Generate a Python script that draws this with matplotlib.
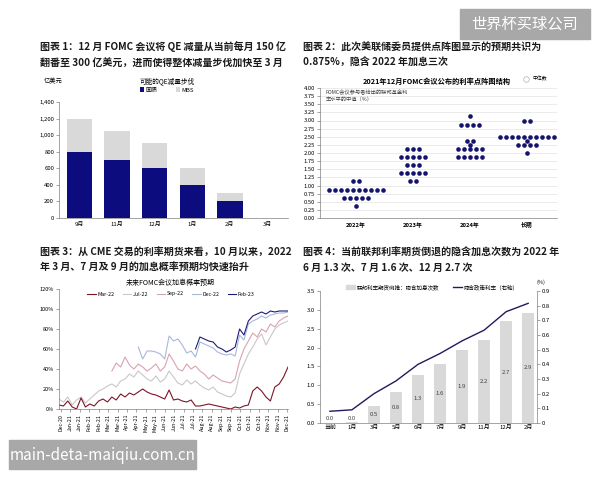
#!/usr/bin/env python3
"""FOMC 四图拼版 - QE减量 / 点阵图 / 加息概率 / 隐含加息次数"""
import pandas as pd
import matplotlib
matplotlib.use('Agg')
import matplotlib.pyplot as plt
import matplotlib.dates as mdates
from matplotlib.patches import Rectangle, Patch
from matplotlib.lines import Line2D

plt.rcParams['font.family'] = ['Noto Sans CJK SC', 'DejaVu Sans']

# 图1 QE 减量步伐（亿美元）
qe_months = ['9月', '11月', '12月', '1月', '2月', '3月']
qe_treasury = [800, 700, 600, 400, 200, 0]
qe_mbs = [400, 350, 300, 200, 100, 0]

# 图2 点阵图
dot_groups = ['2022年', '2023年', '2024年', '长期']
dots_2022_rate = [1.125, 0.875, 0.625, 0.375]
dots_2022_count = [2, 10, 5, 1]
dots_2023_rate = [2.125, 1.875, 1.625, 1.375, 1.125]
dots_2023_count = [3, 5, 3, 5, 2]
dots_2024_rate = [3.125, 2.875, 2.375, 2.25, 2.125, 1.875]
dots_2024_count = [1, 4, 2, 1, 5, 5]
dots_long_rate = [3.0, 2.5, 2.375, 2.25, 2.0]
dots_long_count = [2, 10, 1, 4, 1]

# 图3 CME 加息概率（%），周频
cme_start = '2020-12-17'
cme_weeks = 53
mar22 = [4, 3, 8, 2, 0, 11, 2, 5, 3, 8, 10, 7, 12, 9, 15, 12, 16, 14, 17, 20,
         17, 15, 14, 12, 10, 19, 9, 10, 8, 7, 9, 3, 3, 4, 5, 4, 3, 2, 1, 0,
         2, 1, 3, 4, 18, 22, 18, 12, 8, 22, 25, 32, 42]
jul22 = [10, 7, 12, 4, 9, 12, 6, 10, 14, 18, 20, 23, 25, 22, 28, 30, 35, 32, 38, 34,
         30, 28, 33, 27, 30, 38, 32, 26, 24, 29, 25, 28, 24, 21, 19, 22, 17, 15, 13, 12,
         16, 35, 45, 55, 62, 70, 75, 64, 72, 80, 84, 86, 88]
sep22_from = 12
sep22 = [38, 46, 42, 52, 44, 40, 45, 42, 38, 41, 45, 38, 42, 55, 48, 40, 38, 45, 40, 43,
         38, 35, 30, 34, 31, 28, 27, 26, 30, 48, 60, 68, 76, 72, 80, 77, 85, 82, 88, 91, 93]
dec22_from = 18
dec22 = [62, 50, 58, 58, 57, 55, 50, 73, 68, 70, 64, 56, 58, 52, 67, 65, 63, 61, 57, 55,
         54, 55, 53, 74, 69, 85, 88, 90, 93, 91, 94, 95, 96, 96, 97]
feb23_from = 31
feb23 = [60, 72, 70, 68, 67, 62, 60, 57, 59, 62, 80, 74, 88, 93, 95, 97, 95, 98, 97, 98,
         98, 98]

# 图4 隐含加息次数 / 隐含政策利率
hike_months = ['当前', '1月', '3月', '5月', '6月', '7月', '9月', '11月', '12月', '2月']
hike_counts = [0.0, 0.02, 0.46, 0.82, 1.28, 1.56, 1.93, 2.20, 2.70, 2.92]
implied_rate = [0.08, 0.09, 0.20, 0.287, 0.40, 0.474, 0.56, 0.633, 0.759, 0.816]

NAVY = '#14146e'
W, H = 600, 480


def rect(x0, y0, x1, y1):
    """像素坐标 -> figure 坐标"""
    return [x0 / W, 1 - y1 / H, (x1 - x0) / W, (y1 - y0) / H]


def ftext(x, y, s, **kw):
    kw.setdefault('va', 'center')
    fig.text(x / W, 1 - y / H, s, **kw)


def style_axes(ax, fs=4.3):
    for side in ['top', 'right']:
        ax.spines[side].set_visible(False)
    for side in ['left', 'bottom']:
        ax.spines[side].set_linewidth(0.5)
        ax.spines[side].set_color('#808080')
    ax.tick_params(labelsize=fs, length=2, width=0.5, color='#808080', pad=1.5)


fig = plt.figure(figsize=(6, 4.8), dpi=100)

title_kw = dict(fontsize=7.2, fontweight='bold', color='#1a1a1a', ha='left')
ftext(40, 47, '图表 1：12 月 FOMC 会议将 QE 减量从当前每月 150 亿', **title_kw)
ftext(40, 64, '翻番至 300 亿美元，进而使得整体减量步伐加快至 3 月', **title_kw)
ftext(303, 48, '图表 2：此次美联储委员提供点阵图显示的预期共识为', **title_kw)
ftext(303, 63, '0.875%，隐含 2022 年加息三次', **title_kw)
ftext(40, 253, '图表 3：从 CME 交易的利率期货来看，10 月以来，2022', **title_kw)
ftext(40, 268, '年 3 月、7 月及 9 月的加息概率预期均快速抬升', **title_kw)
ftext(303, 253, '图表 4：当前联邦利率期货倒退的隐含加息次数为 2022 年', **title_kw)
ftext(303, 268, '6 月 1.3 次、7 月 1.6 次、12 月 2.7 次', **title_kw)

# ---------- 图1 ----------
ax1 = fig.add_axes(rect(59, 102, 288, 218))
x1 = list(range(len(qe_months)))
ax1.bar(x1, qe_treasury, width=0.68, color='#0c0c7e', label='国债')
ax1.bar(x1, qe_mbs, width=0.68, bottom=qe_treasury, color='#d9d9d9', label='MBS')
ax1.set_ylim(0, 1400)
ax1.set_yticks(range(0, 1401, 200))
ax1.set_yticklabels([f'{v:,}' for v in range(0, 1401, 200)])
ax1.set_xticks(x1)
ax1.set_xticklabels(qe_months)
ax1.set_xlim(-0.55, 5.55)
style_axes(ax1)
ax1.tick_params(axis='x', length=0, pad=3)
ftext(167, 81, '可能的QE减量步伐', fontsize=4.8, ha='center')
ftext(44, 81, '亿美元', fontsize=4.5, ha='left')
ax1.legend(ncol=2, loc='center', bbox_to_anchor=(167 / W, 1 - 90 / H),
           bbox_transform=fig.transFigure, frameon=False, fontsize=4.3,
           handlelength=0.7, handleheight=0.7, handletextpad=0.3, columnspacing=3)

# ---------- 图2 ----------
ax2 = fig.add_axes(rect(320, 88, 557, 218))
dot_sets = [(dots_2022_rate, dots_2022_count), (dots_2023_rate, dots_2023_count),
            (dots_2024_rate, dots_2024_count), (dots_long_rate, dots_long_count)]
for gi, (rates, counts) in enumerate(dot_sets):
    for r, n in zip(rates, counts):
        xs = [gi + (j - (n - 1) / 2) * 0.105 for j in range(n)]
        ax2.scatter(xs, [r] * n, s=11, color=NAVY, zorder=3, linewidths=0)
ax2.set_ylim(0, 4)
ax2.set_yticks([i * 0.25 for i in range(17)])
ax2.set_yticklabels([f'{i * 0.25:.2f}' for i in range(17)])
ax2.set_xlim(-0.63, 3.53)
ax2.set_xticks(range(4))
ax2.set_xticklabels(dot_groups, fontweight='bold')
ax2.grid(axis='y', color='#e3e3e3', linewidth=0.5)
ax2.set_axisbelow(True)
style_axes(ax2, fs=4.2)
ax2.tick_params(axis='x', length=0, pad=3)
ftext(437, 81, '2021年12月FOMC会议公布的利率点阵图结构', fontsize=5.2,
      fontweight='bold', ha='center')
ftext(326, 92.5, 'FOMC会议参与者给出的联邦基金利', fontsize=3.8, color='#404040')
ftext(326, 100, '率水平的中值（%）', fontsize=3.8, color='#404040')
ax2.legend(handles=[Line2D([], [], marker='o', ls='none', mfc='white', mec='#b0b0b0',
                           ms=4, mew=0.5, label='中位数')],
           loc='center', bbox_to_anchor=(534 / W, 1 - 79 / H),
           bbox_transform=fig.transFigure, frameon=False, fontsize=3.5,
           handletextpad=0.2)

# ---------- 图3 ----------
ax3 = fig.add_axes(rect(59, 289, 288, 409))
weeks = pd.date_range(cme_start, periods=cme_weeks, freq='7D')
lw = 0.8
ax3.plot(weeks, jul22, color='#c8c8c8', lw=lw, label='Jul-22')
ax3.plot(weeks[sep22_from:], sep22, color='#d9a3ae', lw=lw, label='Sep-22')
ax3.plot(weeks, mar22, color='#7d1428', lw=lw, label='Mar-22')
ax3.plot(weeks[dec22_from:], dec22, color='#a9b7d9', lw=lw, label='Dec-22')
ax3.plot(weeks[feb23_from:], feb23, color='#1c1c78', lw=lw, label='Feb-23')
ax3.set_ylim(0, 120)
ax3.set_yticks(range(0, 121, 20))
ax3.set_yticklabels([f'{v}%' for v in range(0, 121, 20)])
ax3.set_xlim(pd.Timestamp('2020-12-17'), pd.Timestamp('2021-12-16'))
ax3.set_xticks(pd.date_range('2020-12-20', periods=25, freq='15D'))
ax3.xaxis.set_major_formatter(mdates.DateFormatter('%b-%y'))
style_axes(ax3, fs=4.0)
ax3.tick_params(axis='x', rotation=90, labelsize=3.8)
ftext(170, 283, '未来FOMC会议加息概率预期', fontsize=5, ha='center')
h, l = ax3.get_legend_handles_labels()
order = ['Mar-22', 'Jul-22', 'Sep-22', 'Dec-22', 'Feb-23']
hd = dict(zip(l, h))
ax3.legend([hd[k] for k in order], order, ncol=5, loc='center',
           bbox_to_anchor=(171 / W, 1 - 294 / H), bbox_transform=fig.transFigure,
           frameon=False, fontsize=3.8, handlelength=1.6, handletextpad=0.3,
           columnspacing=1.6)

# ---------- 图4 ----------
ax4 = fig.add_axes(rect(320, 291, 537, 423))
x4 = list(range(len(hike_months)))
ax4.bar(x4, hike_counts, width=0.56, color='#d9d9d9', label='联邦利率期货倒推：隐含加息次数')
for xi, v in zip(x4, hike_counts):
    ax4.text(xi, max(v / 2, 0.12), f'{v:.1f}', ha='center', va='center',
             fontsize=4.3, color='#404040')
ax4.set_ylim(0, 3.5)
ax4.set_yticks([i * 0.5 for i in range(8)])
ax4.set_yticklabels([f'{i * 0.5:.1f}' for i in range(8)])
ax4.set_xlim(-0.45, 9.4)
ax4.set_xticks(x4)
ax4.set_xticklabels(hike_months)
style_axes(ax4, fs=4.3)
ax4.tick_params(axis='x', length=0)
ax4r = ax4.twinx()
ax4r.plot(x4, implied_rate, color='#1f1b5c', lw=1.0, label='隐含政策利率（右轴）')
ax4r.set_ylim(0, 0.9)
ax4r.set_yticks([i * 0.1 for i in range(10)])
ax4r.set_yticklabels(['0'] + [f'{i * 0.1:.1f}' for i in range(1, 10)])
for side in ['top', 'left', 'bottom']:
    ax4r.spines[side].set_visible(False)
ax4r.spines['right'].set_linewidth(0.5)
ax4r.spines['right'].set_color('#808080')
ax4r.tick_params(labelsize=4.3, length=2, width=0.5, color='#808080', pad=1.5)
ftext(541, 282, '(%)', fontsize=4, ha='center')
ax4.legend(handles=[Patch(color='#d9d9d9', label='联邦利率期货倒推：隐含加息次数'),
                    Line2D([], [], color='#1f1b5c', lw=1.0, label='隐含政策利率（右轴）')],
           ncol=2, loc='center', bbox_to_anchor=(432 / W, 1 - 287 / H),
           bbox_transform=fig.transFigure, frameon=False, fontsize=4.0,
           handlelength=1.6, handleheight=0.8, handletextpad=0.3, columnspacing=2.5)

# ---------- 水印 ----------
fig.patches.append(Rectangle((460 / W, 1 - 39 / H), 130 / W, 30 / H,
                             transform=fig.transFigure, color='#a8a8a8', zorder=5))
ftext(525, 24, '世界杯买球公司', fontsize=11, color='white', ha='center', zorder=6)
fig.patches.append(Rectangle((9 / W, 1 - 469 / H), 187 / W, 29 / H,
                             transform=fig.transFigure, color='#a8a8a8', zorder=5))
ftext(102.5, 455, 'main-deta-maiqiu.com.cn', fontsize=11, color='white',
      ha='center', zorder=6)

fig.savefig('out.png', dpi=100)
